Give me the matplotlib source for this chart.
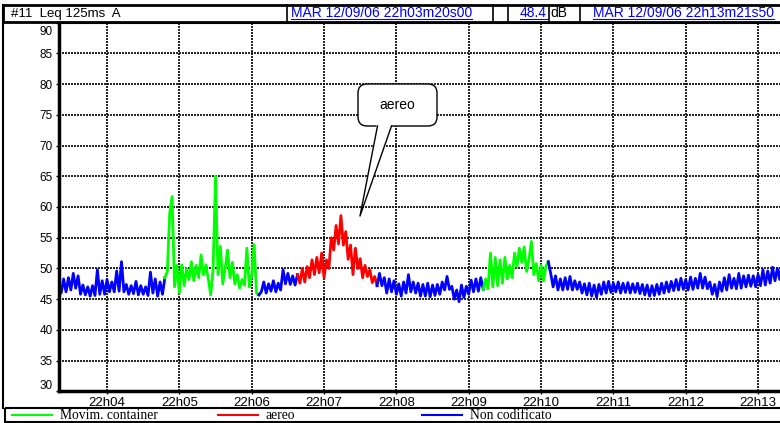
import matplotlib
matplotlib.use("Agg")
import matplotlib.pyplot as plt
from matplotlib.patches import Rectangle, FancyBboxPatch, Polygon
from matplotlib.lines import Line2D
from matplotlib.transforms import Affine2D, IdentityTransform

# Leq 125ms A: one value every 2 s, t = 0 at 22h03m20s
SAMPLE_S = 2

blue1 = [47.5, 46.0, 48.3, 46.2, 48.5, 46.5, 49.2, 46.8, 48.8, 45.8,
         47.3, 45.7, 47.0, 45.5, 47.2, 45.6, 49.8, 45.8, 48.0, 45.8,
         48.2, 46.2, 47.8, 46.2, 49.6, 46.3, 51.1, 46.2, 47.4, 45.8,
         47.2, 45.9, 47.9, 45.7, 47.2, 45.8, 47.0, 45.6, 49.4, 46.0,
         48.3, 45.5, 47.8, 45.8, 48.5]
green1 = [49.5, 59.0, 61.7, 47.0, 50.5, 46.0, 50.6, 47.2, 50.0, 48.2,
          51.1, 48.0, 50.5, 48.5, 52.2, 49.0, 50.6, 48.3, 45.7, 50.0,
          65.0, 49.0, 53.6, 47.5, 50.0, 53.0, 48.5, 51.0, 47.5, 49.0,
          46.8, 48.2, 47.3, 53.3, 47.0, 49.0, 53.9, 46.0, 45.7]
blue2 = [46.2, 47.8, 46.0, 47.5, 46.3, 48.0, 46.2, 47.6, 46.5, 49.8,
         47.5, 49.2, 47.4, 48.8, 47.3, 49.0]
red1 = [47.6, 50.0, 47.8, 50.3, 48.5, 51.4, 49.0, 51.8, 49.3, 52.5,
        48.5, 51.4, 50.0, 55.0, 53.0, 57.0, 54.0, 58.6, 53.8, 56.0,
        51.5, 53.8, 49.0, 53.3, 50.0, 51.6, 48.5, 50.5, 48.7, 49.8,
        47.7, 48.7, 47.2]
blue3 = [49.2, 47.2, 48.5, 46.0, 48.3, 46.2, 48.0, 45.8, 47.5, 45.5,
         47.8, 46.0, 49.0, 46.2, 47.8, 46.0, 47.6, 45.5, 47.4, 45.5,
         47.6, 45.4, 47.3, 45.6, 47.4, 45.8, 47.8, 46.5, 48.7, 46.6,
         47.1, 45.0, 46.5, 44.6, 47.3, 45.3, 47.1, 45.8, 48.1, 46.2,
         48.3, 46.3, 48.5, 46.6]
green2 = [48.3, 46.7, 52.5, 47.0, 51.8, 47.2, 51.4, 47.6, 51.8, 48.3,
          50.5, 48.5, 52.5, 50.3, 53.3, 51.0, 53.5, 49.5, 51.5, 54.4,
          49.0, 50.8, 48.0, 50.5, 48.0, 50.3, 51.1]
blue4 = [49.2, 47.0, 48.8, 46.5, 48.3, 46.5, 48.5, 46.6, 48.7, 46.5,
         48.0, 46.6, 47.8, 46.0, 47.5, 45.7, 47.6, 45.5, 47.3, 45.3,
         47.4, 45.8, 47.8, 46.0, 47.9, 46.1, 47.6, 46.2, 47.8, 46.0,
         47.6, 46.1, 47.7, 46.0, 47.5, 46.1, 47.6, 45.9, 47.4, 45.7,
         47.3, 45.5, 47.2, 45.6, 47.4, 45.8, 47.6, 46.0, 47.8, 46.2,
         47.9, 46.4, 48.2, 46.5, 48.4, 46.6, 48.2, 46.5, 48.6, 46.6,
         48.4, 46.8, 49.2, 46.8, 48.6, 46.7, 47.8, 45.8, 47.4, 45.4,
         47.8, 46.3, 48.5, 46.5, 49.0, 46.8, 48.4, 46.7, 49.2, 46.8,
         48.8, 47.0, 48.9, 47.1, 48.8, 47.0, 49.0, 47.2, 49.8, 47.3,
         49.6, 47.6, 50.2, 48.0, 50.0, 48.2, 51.2]

GREEN, RED, BLUE = "#00ff00", "#ff0000", "#0000ff"
# (colour, start second, values)
segments = [(BLUE, 0, blue1), (GREEN, 90, green1), (BLUE, 168, blue2),
            (RED, 200, red1), (BLUE, 266, blue3), (GREEN, 354, green2),
            (BLUE, 408, blue4)]

minute_ticks = [40, 100, 160, 220, 280, 340, 400, 460, 520, 580]
minute_labels = ["22h04", "22h05", "22h06", "22h07", "22h08",
                 "22h09", "22h10", "22h11", "22h12", "22h13"]
y_ticks = [30, 35, 40, 45, 50, 55, 60, 65, 70, 75, 80, 85, 90]
legend_labels = ["Movim. container", "aereo", "Non codificato"]
legend_colors = [GREEN, RED, BLUE]

plt.rcParams['font.family'] = ['Liberation Sans', 'DejaVu Sans']

W, H = 780, 423
fig = plt.figure(figsize=(W / 100, H / 100), dpi=100)
pix = Affine2D().scale(1, -1).translate(0, H)   # pixel coords, origin top-left

ax = fig.add_axes([58.8 / W, 1 - 391.4 / H, (784 - 58.8) / W, (391.4 - 22.6) / H])
ax.set_xlim(0, 601.5)
ax.set_ylim(30, 90)

prev = None
for color, t0, vals in segments:
    ts = [t0 + SAMPLE_S * i for i in range(len(vals))]
    vs = list(vals)
    if prev is not None:
        ts = [prev[0]] + ts
        vs = [prev[1]] + vs
    ax.plot(ts, vs, color=color, lw=2.0)
    prev = (ts[-1], vs[-1])

ax.set_xticks(minute_ticks)
ax.set_xticklabels(minute_labels, fontsize=9.5)
ax.set_yticks(y_ticks)
ax.set_yticklabels(["" if v in (30, 90) else str(v) for v in y_ticks], fontsize=8.5)
ax.tick_params(axis='x', direction='out', length=2.2, width=1, pad=1.9)
ax.tick_params(axis='y', direction='out', length=2.2, width=1, pad=2)
ax.text(-0.008, 88.5, "90", transform=ax.get_yaxis_transform(), ha='right', va='center', fontsize=8.5)
ax.text(-0.008, 30.9, "30", transform=ax.get_yaxis_transform(), ha='right', va='center', fontsize=8.5)

ax.grid(True, color='black', linestyle=(0, (1.2, 0.6)), linewidth=1.2)
ax.set_axisbelow(True)
ax.spines['left'].set_linewidth(2.5)
ax.spines['bottom'].set_linewidth(2.5)
ax.spines['top'].set_linewidth(1.5)
ax.spines['right'].set_visible(False)

# header bar
fig.add_artist(Rectangle((3, 5), 790, 16.5, transform=pix, fill=False, ec='black', lw=2))
for xs in [287, 493, 508, 549, 580]:
    fig.add_artist(Line2D([xs, xs], [5, 21.5], transform=pix, color='black', lw=1.2))
fig.text(11, 13.5, "#11  Leq 125ms  A", transform=pix, ha='left', va='center', fontsize=9.5)
t1 = fig.text(291, 13, "MAR 12/09/06 22h03m20s00", transform=pix, ha='left', va='center',
              fontsize=10, color=BLUE)
t2 = fig.text(547, 13, "48.4", transform=pix, ha='right', va='center', fontsize=10, color=BLUE)
fig.text(550, 13, "dB", transform=pix, ha='left', va='center', fontsize=10)
t3 = fig.text(593, 13, "MAR 12/09/06 22h13m21s50", transform=pix, ha='left', va='center',
              fontsize=10, color=BLUE)

# outer frame and legend bar
fig.add_artist(Line2D([3, 3], [5, 408], transform=pix, color='black', lw=1.5))
fig.add_artist(Rectangle((5, 408), 790, 14, transform=pix, fill=False, ec='black', lw=1.5))
for x0, lab, col in zip([12, 218, 422], legend_labels, legend_colors):
    fig.add_artist(Line2D([x0, x0 + 40], [414.5, 414.5], transform=pix, color=col, lw=1.5))
    fig.text(x0 + 48, 415, lab, transform=pix, ha='left', va='center', fontsize=9.8,
             family=['Liberation Serif', 'DejaVu Serif'])

# callout bubble
fig.add_artist(FancyBboxPatch((358, 84), 79, 42, boxstyle="round,pad=0,rounding_size=9",
                              transform=pix, fc='white', ec='black', lw=1, zorder=3))
fig.add_artist(Polygon([(377, 123), (392, 123), (360, 216)], closed=True, transform=pix,
                       fc='white', ec='none', zorder=4))
fig.add_artist(Line2D([377.5, 360, 391.5], [126, 216, 126], transform=pix, color='black',
                      lw=1, zorder=5))
fig.text(397, 105, "aereo", transform=pix, ha='center', va='center', fontsize=10, zorder=6)

# underline the blue header fields
fig.canvas.draw()
for t in (t1, t2, t3):
    bb = t.get_window_extent()
    fig.add_artist(Line2D([bb.x0, bb.x1], [H - 19.3, H - 19.3], transform=IdentityTransform(),
                          color=BLUE, lw=0.8))

fig.savefig("out.png", dpi=100)
